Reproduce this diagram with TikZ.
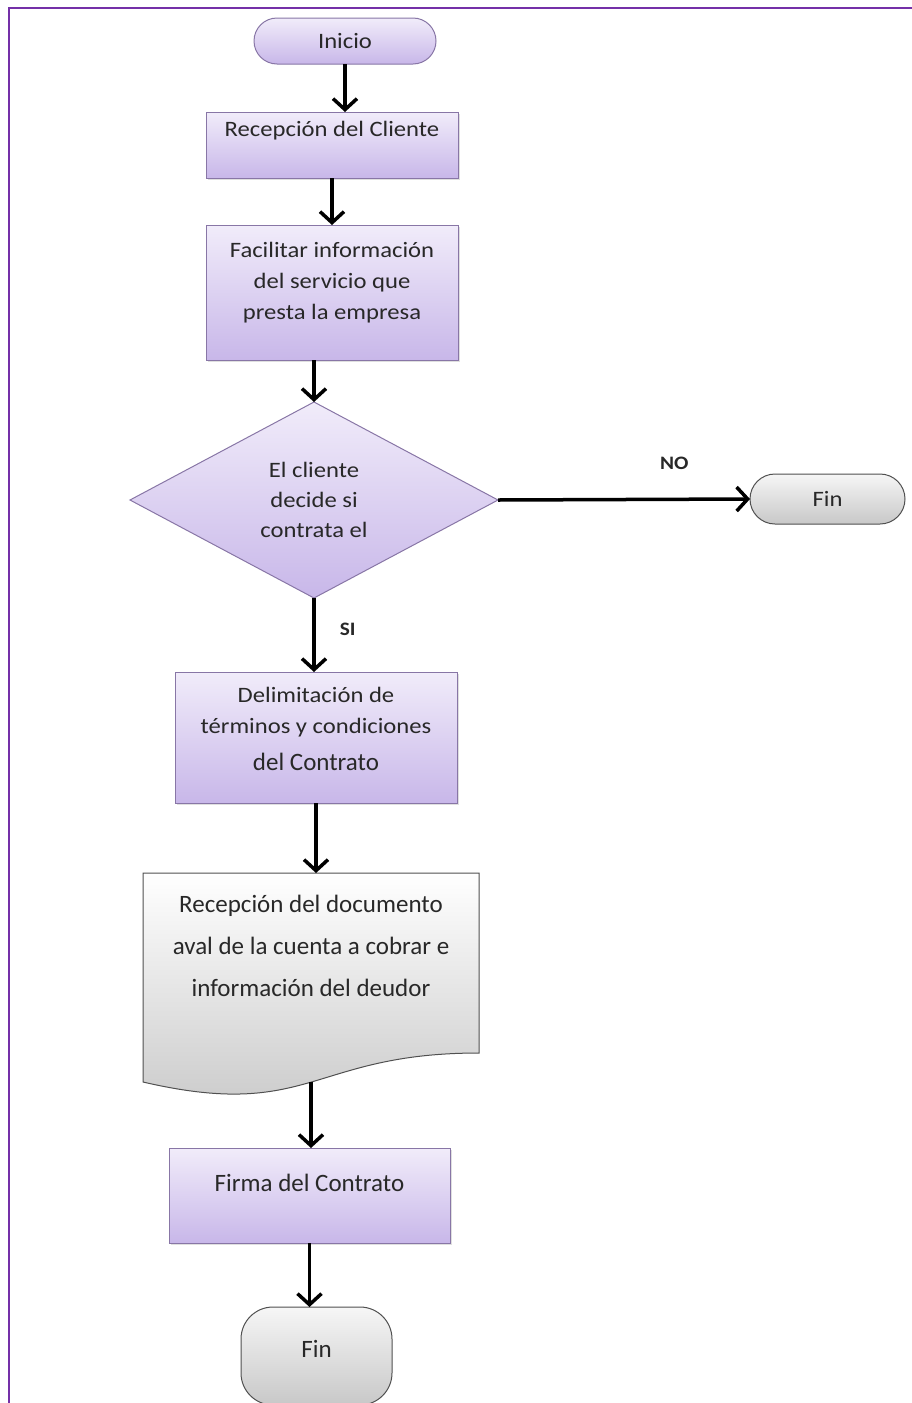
\documentclass[tikz,border=0pt]{standalone}
\usepackage{fontspec}
\setmainfont{Carlito}[FakeStretch=1.12]
\newfontfamily\plainfont{Carlito}
\usetikzlibrary{arrows.meta,shapes.geometric,calc,shadows}

\definecolor{framec}{RGB}{116,48,168}
\definecolor{proctop}{RGB}{241,236,250}
\definecolor{procbot}{RGB}{200,183,233}
\definecolor{procline}{RGB}{136,118,166}
\definecolor{greytop}{RGB}{246,246,246}
\definecolor{greybot}{RGB}{200,200,200}
\definecolor{greyline}{RGB}{80,80,80}
\definecolor{txt}{RGB}{40,40,40}

\begin{document}
\begin{tikzpicture}[x=1pt,y=-1pt,
  every label/.style={text=txt, align=center, inner sep=0pt},
  boxbase/.style={inner sep=0pt, outer sep=0pt, line width=1pt},
  proc/.style={boxbase, rectangle, draw=procline, top color=proctop, bottom color=procbot,
    drop shadow={shadow xshift=2pt, shadow yshift=-2pt, opacity=0.25}},
  decision/.style={boxbase, diamond, draw=procline, top color=proctop, bottom color=procbot},
  term/.style={boxbase, rectangle, draw=procline, top color=proctop, bottom color=procbot},
  termgrey/.style={boxbase, rectangle, draw=greyline, top color=greytop, bottom color=greybot},
  docshape/.style={draw=greyline, line width=1pt, top color=white, bottom color=greybot},
  mainfont/.style={font=\fontsize{22}{31}\selectfont},
  narrowfont/.style={font=\plainfont\fontsize{25}{42}\selectfont},
  flow/.style={line width=3.5pt, -{Straight Barb[length=11pt,width=24pt,line width=3.5pt]}},
  branch/.style={text=txt, font=\bfseries\fontsize{19}{22}\selectfont, inner sep=0pt}
]
\useasboundingbox (0,0) rectangle (912,1403);

% page frame (top and left edges)
\draw[framec, line width=2.5pt] (9,1403) -- (9,8) -- (912,8);

% process boxes and terminals
\node[term, rounded corners=23pt, minimum width=182pt, minimum height=46pt,
  label={[mainfont]center:Inicio}] (inicio) at (345,41) {};

\node[proc, minimum width=252pt, minimum height=66pt,
  label={[mainfont, yshift=14pt]center:Recepción del Cliente}] (recep) at (332,145) {};

\node[proc, minimum width=252pt, minimum height=135pt,
  label={[mainfont, yshift=10pt]center:{Facilitar información\\del servicio que\\presta la empresa}}] (facil) at (332,292.5) {};

\node[decision, minimum width=368pt, minimum height=196pt,
  label={[mainfont, font=\fontsize{22}{30}\selectfont]center:{El cliente\\decide si\\contrata el}}] (decide) at (314,500) {};

\node[termgrey, rounded corners=25pt, minimum width=155pt, minimum height=50pt,
  label={[mainfont]center:Fin}] (finno) at (827.5,499) {};

\node[proc, minimum width=282pt, minimum height=131pt,
  label={[mainfont, yshift=9pt]center:{Delimitación de\\términos y condiciones\\[6pt]{\plainfont\fontsize{25}{30}\selectfont del Contrato}}}] (delim) at (316,737.5) {};

% document symbol with wavy lower edge
\node[boxbase, rectangle, minimum width=336pt, minimum height=224pt] (doc) at (311,985) {};
\path[docshape] (doc.north west) -- (doc.north east)
  -- ($(doc.north east)+(0,180)$)
  .. controls ($(doc.north)+(0,180)$) and ($(doc.north)+(0,248)$) .. ($(doc.north west)+(0,209)$)
  -- cycle;
\node[narrowfont, text=txt, align=center, inner sep=0pt] (doctext) at (311,946)
  {Recepción del documento\\aval de la cuenta a cobrar e\\información del deudor};
\coordinate (docbot) at ($(doc.north)+(0,209)$);

\node[proc, minimum width=281pt, minimum height=95pt,
  label={[narrowfont, yshift=13pt]center:Firma del Contrato}] (firma) at (309.5,1195.5) {};

\node[termgrey, rounded corners=32pt, minimum width=151pt, minimum height=98pt,
  label={[narrowfont, yshift=7pt]center:Fin}] (finend) at (316.5,1356) {};

% connectors
\draw[flow] (inicio.south) -- (inicio.south |- recep.north);
\draw[flow] (recep.south) -- (recep.south |- facil.north);
\draw[flow] (decide.north |- facil.south) -- (decide.north);
\draw[flow] (decide.east) -- (finno.west) node[branch, pos=0.7, above=28pt] (no) {NO};
\draw[flow] (decide.south) -- (decide.south |- delim.north) node[branch, pos=0.42, right=24pt] (si) {SI};
\draw[flow] (delim.south) -- (delim.south |- doc.north);
\draw[flow] (docbot) -- (docbot |- firma.north);
\draw[flow] (firma.south) -- (firma.south |- finend.north);
\end{tikzpicture}
\end{document}
